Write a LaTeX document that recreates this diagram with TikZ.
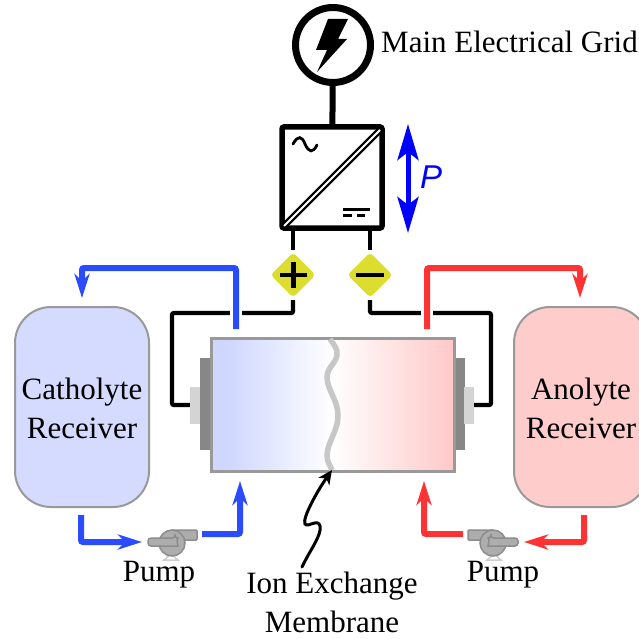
\documentclass[tikz,border=0pt]{standalone}
\usepackage{fontspec}
\setmainfont{Liberation Serif}
\newfontfamily\psans{Liberation Sans}
\usetikzlibrary{arrows.meta,shapes.geometric,calc}
\definecolor{pipeblue}{HTML}{2B4BFF}
\definecolor{pipered}{HTML}{FF3333}
\definecolor{edgegray}{HTML}{999999}
\definecolor{tankblue}{HTML}{D5DBFF}
\definecolor{tankred}{HTML}{FFCCCC}
\definecolor{cellblue}{HTML}{CFD7FF}
\definecolor{cellred}{HTML}{FFC8C8}
\definecolor{polarity}{HTML}{DDDD30}
\definecolor{pumpfill}{HTML}{ADADAD}
\definecolor{pumpedge}{HTML}{8C8C8C}
\tikzset{
  lbl/.style={font=\fontsize{31}{39}\selectfont,inner sep=0pt,align=center,text=black},
  wire/.style={draw=black,line width=4.3pt,rounded corners=2pt},
  heavy/.style={draw=black,line width=6pt},
  bluepipe/.style={draw=pipeblue,line width=6pt,rounded corners=2pt},
  redpipe/.style={draw=pipered,line width=6pt,rounded corners=2pt},
  pipetip/.style={-{Stealth[length=24pt,width=15pt,inset=7pt]}},
  tank/.style={draw=edgegray,line width=2pt,rounded corners=36pt,inner sep=0pt,minimum height=200pt},
  polbox/.style={diamond,fill=polarity,draw=polarity,line width=2pt,rounded corners=3pt,minimum width=43pt,minimum height=43pt,inner sep=0pt},
  polsign/.style={draw=black,line width=4.5pt},
  halo/.style={draw=white,line width=12pt},
  pumpbody/.style={fill=pumpfill,draw=pumpedge,line width=1.5pt,rounded corners=1pt},
  pumpfoot/.style={draw=pumpfill!60,line width=1.5pt},
  electrodeA/.style={fill=black!47,draw=none,inner sep=0pt,minimum width=10pt,minimum height=92pt},
  electrodeB/.style={fill=black!17,draw=none,inner sep=0pt,minimum width=10pt,minimum height=37pt},
}
\begin{document}
\begin{tikzpicture}[x=1pt,y=-1pt]
\useasboundingbox (0,0) rectangle (639,639);
\clip (0,0) rectangle (639,639);

% Tanks
\node[tank,fill=tankblue,minimum width=134pt] (ctank) at (82,407) {};
\node[tank,fill=tankred,minimum width=134pt] (atank) at (581,407) {};
\node[lbl,anchor=base] at (82,438) (clabel) {Catholyte\\Receiver};
\node[lbl,anchor=base] at (581,438) (alabel) {Anolyte\\Receiver};

% Electrodes
\node[electrodeA] (eL) at (205,404) {};
\node[electrodeB] (tL) at (195,405) {};
\node[electrodeA] (eR) at (460,404) {};
\node[electrodeB] (tR) at (469,405) {};

% Cell
\fill[cellblue] (211,338) rectangle (228,471);
\shade[left color=cellblue,right color=white,middle color=cellblue!50] (228,338) rectangle (331,471);
\shade[left color=white,right color=cellred,middle color=cellred!50] (331,338) rectangle (454,471);
\node[draw=edgegray,line width=3pt,minimum width=243pt,minimum height=133pt,inner sep=0pt] (cell) at (332.5,404.5) {};
\coordinate (mtop) at (330,339);
\coordinate (mbot) at (332,470);
\draw[draw=black!22,line width=5.5pt] (mtop)
  .. controls (334,345) and (338,349) .. (337,355)
  .. controls (336,363) and (327,368) .. (327,377)
  .. controls (327,390) and (338,400) .. (338,415)
  .. controls (338,432) and (327,442) .. (327,456)
  .. controls (327,462) and (330,465) .. (mbot);

% Grid
\node[circle,draw=black,line width=7pt,minimum size=75pt,inner sep=0pt] (grid) at (333,45) {};
\fill (328,19) -- (348,19) -- (338,39) -- (347,39) -- (317,72) -- (327,50) -- (316,50) -- cycle;
\node[lbl,anchor=base west] (gridlabel) at (381,53) {Main Electrical Grid};

% Converter
\node[draw=black,line width=5.5pt,rounded corners=2pt,minimum width=100pt,minimum height=101pt,inner sep=0pt] (conv) at (332,177.5) {};
\draw[heavy] (grid) -- (conv);
\coordinate (dA) at (284,226);
\coordinate (dB) at (380,130);
\draw[black,line width=6.5pt] (dA) -- (dB);
\draw[white,line width=2pt] (dA) -- (dB);
\draw[black,line width=2.8pt,line cap=round] (293,144) .. controls (298,135) and (302,136) .. (305,144) .. controls (309,153) and (313,153) .. (317,145);
\draw[black,line width=3pt] (343,209) -- (370,209);
\draw[black,line width=3pt] (343,215) -- (352,215);
\draw[black,line width=3pt] (357,215) -- (365,215);

% Power arrow
\coordinate (ptop) at (408,124);
\coordinate (pbot) at (408,233);
\draw[draw=blue,line width=5pt,{Stealth[length=36pt,width=21pt,inset=8pt]}-{Stealth[length=36pt,width=21pt,inset=8pt]}] (ptop) -- (pbot);
\node[font=\fontsize{33}{36}\selectfont\psans\itshape,text=blue,inner sep=0pt] (plabel) at (431,177) {P};

% Polarity
\node[polbox] (plus) at (293,275) {};
\node[polbox] (minus) at (370,275) {};
\draw[polsign] (280,275) -- (307,275);
\draw[polsign] (293.5,262) -- (293.5,288);
\draw[polsign] (356,275) -- (384,275);
\draw[draw=black,line width=4.3pt] (plus |- conv.south) -- (293,250);
\draw[draw=black,line width=4.3pt] (minus |- conv.south) -- (370,250);

% Wires
\coordinate (wl) at (172,313);
\coordinate (wr) at (491,313);
\draw[wire] (293,300) -- (plus |- wl) -- (wl) -- (wl |- tL) -- (tL.west);
\draw[wire] (370,300) -- (minus |- wr) -- (wr) -- (wr |- tR) -- (tR.east);
\draw[halo] (236,307) -- (236,319);
\draw[halo] (427,307) -- (427,319);

% Upper pipes
\coordinate (b1) at (236,329);
\coordinate (b2) at (236,268);
\coordinate (b3) at (82,268);
\coordinate (b4) at (82,298);
\draw[bluepipe,pipetip] (b1) -- (b2) -- (b3) -- (b4);
\coordinate (r1) at (427,329);
\coordinate (r2) at (427,268);
\coordinate (r3) at (580,268);
\coordinate (r4) at (580,298);
\draw[redpipe,pipetip] (r1) -- (r2) -- (r3) -- (r4);

% Left pump
\draw[pumpfoot] (171,554) -- (164,560) -- (178,560) -- cycle;
\draw[pumpbody] (172,530) rectangle (197,540);
\node[circle,fill=pumpfill,draw=pumpedge,line width=1.5pt,minimum size=26pt,inner sep=0pt] (pumpL) at (172,543) {};
\draw[pumpbody,rounded corners=3pt] (175,538) -- (148,538) -- (148,546) -- (175,546) .. controls (178,546) and (176,538) .. (175,538) -- cycle;
\node[lbl,anchor=base] (pumpLl) at (159,581) {Pump};

% Right pump
\draw[pumpfoot] (494,554) -- (487,560) -- (501,560) -- cycle;
\draw[pumpbody] (468,530) rectangle (493,540);
\node[circle,fill=pumpfill,draw=pumpedge,line width=1.5pt,minimum size=26pt,inner sep=0pt] (pumpR) at (493,543) {};
\draw[pumpbody,rounded corners=3pt] (491,538) -- (518,538) -- (518,546) -- (491,546) .. controls (488,546) and (490,538) .. (491,538) -- cycle;
\node[lbl,anchor=base] (pumpRl) at (503,581) {Pump};

% Lower pipes
\coordinate (c1) at (81,515);
\coordinate (c2) at (81,542);
\coordinate (c3) at (142,542);
\draw[bluepipe,pipetip] (c1) -- (c2) -- (c3);
\coordinate (c4) at (202,534);
\coordinate (c5) at (240,534);
\coordinate (c6) at (240,481);
\draw[bluepipe,pipetip] (c4) -- (c5) -- (c6);
\coordinate (d1) at (584,515);
\coordinate (d2) at (584,542);
\coordinate (d3) at (524,542);
\draw[redpipe,pipetip] (d1) -- (d2) -- (d3);
\coordinate (d4) at (463,534);
\coordinate (d5) at (424,534);
\coordinate (d6) at (424,481);
\draw[redpipe,pipetip] (d4) -- (d5) -- (d6);

% Membrane label
\node[lbl,anchor=base] (mlabel) at (332,632) {Ion Exchange\\Membrane};
\coordinate (sq) at (302,567);
\draw[draw=black,line width=3pt,line cap=round,-{Stealth[length=14pt,width=13pt,inset=4pt]}] (sq)
  .. controls (310,550) and (322,535) .. (320,526)
  .. controls (318,518) and (308,528) .. (305,524)
  .. controls (302,518) and (318,490) .. (mbot);
\end{tikzpicture}
\end{document}
